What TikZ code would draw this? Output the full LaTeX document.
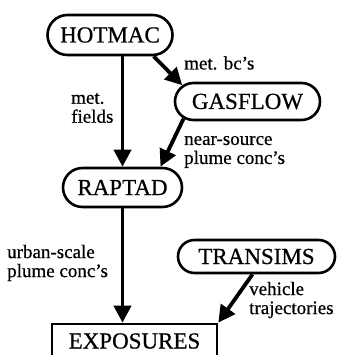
\documentclass[tikz,border=0pt]{standalone}
\usepackage{fontspec}
\setmainfont{Liberation Serif}
\newfontfamily\heavyserif[Ligatures=TeX,FakeBold=0.6]{Liberation Serif}
\usetikzlibrary{arrows.meta,shapes.misc}

\begin{document}
\begin{tikzpicture}[x=1pt,y=1pt,
  prog/.style={draw,rounded rectangle,line width=2.6pt,inner sep=0pt,font=\heavyserif\fontsize{23}{26}\selectfont},
  flow/.style={line width=3.8pt,-{Triangle[length=17pt,width=17pt]}},
  note/.style={anchor=west,align=left,inner sep=0pt,font=\heavyserif\fontsize{19}{19}\selectfont}]
\useasboundingbox (0,0) rectangle (338,355);
% models
\node[prog,minimum width=125pt,minimum height=40pt] (hotmac) at (110,320) {HOTMAC};
\node[prog,minimum width=145pt,minimum height=37pt] (gasflow) at (247.5,253.5) {GASFLOW};
\node[prog,minimum width=119pt,minimum height=39pt] (raptad) at (122.5,167.5) {RAPTAD};
\node[prog,minimum width=157pt,minimum height=33pt] (transims) at (256.5,98.5) {TRANSIMS};
\node[draw,line width=2.6pt,inner sep=0pt,minimum width=165pt,minimum height=34pt,
  font=\heavyserif\fontsize{23}{26}\selectfont] (exposures) at (134.5,14) {EXPOSURES\hspace{8pt}};
% data flows
\draw[flow] (hotmac.south -| raptad.north) -- (raptad.north);
\draw[flow] (hotmac.-26) -- (gasflow.166);
\draw[flow] (gasflow.195) -- ([xshift=38pt]raptad.north);
\draw[flow] (raptad.south) -- (raptad.south |- exposures.north);
\draw[flow] ([xshift=-4pt]transims.south) -- (exposures.north east);
% labels
\node[note] (bcs) at (184,292) {met. bc's};
\node[note] (fields) at (71,247) {met.\\fields};
\node[note] (near) at (184,203) {near-source\\plume conc's};
\node[note] (urban) at (7,92) {urban-scale\\plume conc's};
\node[note] (vehicle) at (249,55) {vehicle\\trajectories};
\end{tikzpicture}
\end{document}
